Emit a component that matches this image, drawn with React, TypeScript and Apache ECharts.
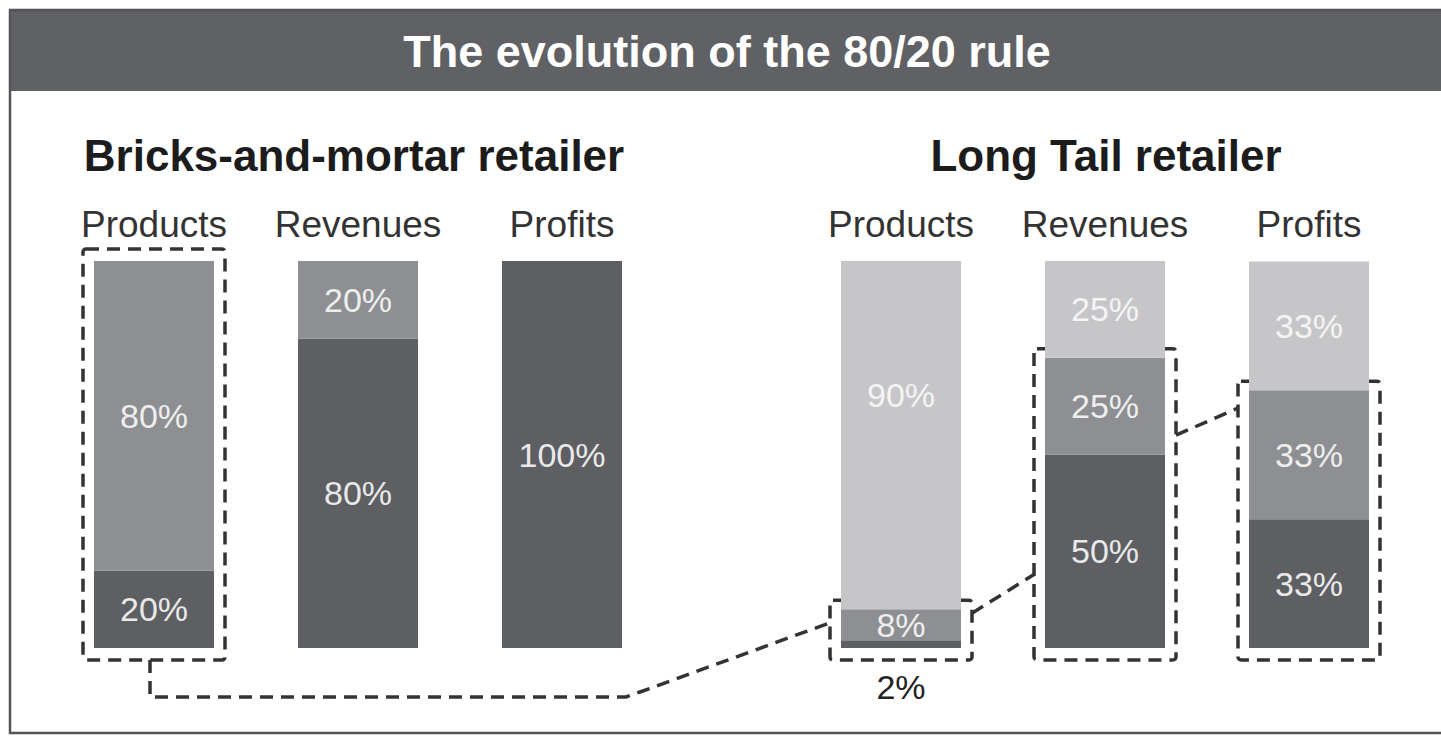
import React, { useEffect, useRef } from "react";
import * as echarts from "echarts";

const headerTitle = "The evolution of the 80/20 rule";
const leftTitle = "Bricks-and-mortar retailer";
const rightTitle = "Long Tail retailer";
const columns = ["Products", "Revenues", "Profits"];

// Bricks-and-mortar retailer, bottom to top
const bmHits = [20, 80, 100];
const bmRest = [80, 20, null];

// Long Tail retailer, bottom to top
const ltHits = [2, 50, 33.3];
const ltMiddle = [8, 25, 33.3];
const ltTail = [90, 25, 33.3];

const DARK = "#5e5f63";
const MID = "#8e8f93";
const LIGHT = "#c6c6c8";
const FONT = "Liberation Sans, Arial, sans-serif";

export default function App() {
  const ref = useRef<HTMLDivElement>(null);

  useEffect(() => {
    if (!ref.current) return;
    const chart = echarts.init(ref.current, undefined, { renderer: "svg" });

    const barLabel = (color: string) => ({
      show: true,
      position: "inside",
      color,
      fontFamily: FONT,
      fontSize: 34,
      formatter: (p: any) => Math.round(p.value) + "%",
    });

    const xAxisBase = (gridIndex: number) => ({
      type: "category",
      gridIndex,
      data: columns,
      position: "top",
      axisLine: { show: false },
      axisTick: { show: false },
      axisLabel: {
        interval: 0,
        color: "#333",
        fontFamily: FONT,
        fontSize: 37,
        lineHeight: 37,
        margin: 18,
      },
    });
    const yAxisBase = (gridIndex: number) => ({
      type: "value",
      gridIndex,
      min: 0,
      max: 100,
      show: false,
      splitLine: { show: false },
    });

    const common = { type: "bar", barWidth: 120, barGap: "-100%" };

    chart.setOption({
      animation: false,
      backgroundColor: "#ffffff",
      grid: [
        { left: 52, width: 612, top: 261, bottom: 88 },
        { left: 799, width: 612, top: 261, bottom: 88 },
      ],
      xAxis: [xAxisBase(0), xAxisBase(1)],
      yAxis: [yAxisBase(0), yAxisBase(1)],
      series: [
        {
          ...common,
          name: "bm-hits",
          xAxisIndex: 0,
          yAxisIndex: 0,
          stack: "bm",
          data: bmHits,
          itemStyle: { color: DARK },
          label: barLabel("#e9e9e9"),
        },
        {
          ...common,
          name: "bm-rest",
          xAxisIndex: 0,
          yAxisIndex: 0,
          stack: "bm",
          data: bmRest,
          itemStyle: { color: MID },
          label: barLabel("#eeeeee"),
        },
        {
          ...common,
          name: "lt-hits",
          xAxisIndex: 1,
          yAxisIndex: 1,
          stack: "lt",
          data: ltHits.map((v, i) =>
            i === 0
              ? { value: v, label: { position: "bottom", distance: 22, color: "#222" } }
              : v
          ),
          itemStyle: { color: DARK },
          label: barLabel("#e9e9e9"),
        },
        {
          ...common,
          name: "lt-middle",
          xAxisIndex: 1,
          yAxisIndex: 1,
          stack: "lt",
          data: ltMiddle,
          itemStyle: { color: MID },
          label: barLabel("#eeeeee"),
        },
        {
          ...common,
          name: "lt-tail",
          xAxisIndex: 1,
          yAxisIndex: 1,
          stack: "lt",
          data: ltTail.map((v, i) =>
            i === 0 ? { value: v, label: { offset: [0, -40] } } : v
          ),
          itemStyle: { color: LIGHT },
          label: barLabel("#f4f4f4"),
        },
      ],
    });

    const px = (g: number, cat: number, val: number) =>
      chart.convertToPixel({ gridIndex: g } as any, [columns[cat], val]) as number[];

    const HALF = 60;
    const PADX = 11;
    const dash = {
      fill: "none",
      stroke: "#333336",
      lineWidth: 3.5,
      lineDash: [13, 8],
    };

    const box = (g: number, cat: number, topVal: number, padTop: number) => {
      const [cx, yTop] = px(g, cat, topVal);
      const [, yBot] = px(g, cat, 0);
      return {
        x: cx - HALF - PADX,
        y: yTop - padTop,
        w: 2 * (HALF + PADX),
        h: yBot + 12 - (yTop - padTop),
        cx,
        yBot,
      };
    };

    const bL = box(0, 0, bmHits[0] + (bmRest[0] as number), 12);
    const bP = box(1, 0, ltHits[0] + ltMiddle[0], 9);
    const bR = box(1, 1, ltHits[1] + ltMiddle[1], 9);
    const bF = box(1, 2, ltHits[2] + ltMiddle[2], 9);

    const rectEl = (b: any) => ({
      type: "rect",
      shape: { x: b.x, y: b.y, width: b.w, height: b.h, r: 3 },
      style: { ...dash },
      silent: true,
    });

    const [profitsCx] = px(0, 2, 0);
    const lowY = bL.yBot + 49;
    const [, midSegP] = px(1, 0, ltHits[0] + ltMiddle[0] / 2);
    const [, yP2] = px(1, 0, 9);
    const [, yR2] = px(1, 1, 19);
    const [, yR3] = px(1, 1, 55);
    const [, yF3] = px(1, 2, 62);
    const [revCxL] = px(0, 1, 0);
    const [revCxR] = px(1, 1, 0);

    chart.setOption({
      title: [
        {
          text: headerTitle,
          left: 727,
          top: 51 - 23,
          textAlign: "center",
          padding: 0,
          textStyle: {
            color: "#ffffff",
            fontFamily: FONT,
            fontWeight: "bold",
            fontSize: 45,
            lineHeight: 46,
          },
        },
        {
          text: leftTitle,
          left: revCxL - 4,
          top: 155 - 22,
          textAlign: "center",
          padding: 0,
          textStyle: {
            color: "#1c1c1c",
            fontFamily: FONT,
            fontWeight: "bold",
            fontSize: 44,
            lineHeight: 44,
          },
        },
        {
          text: rightTitle,
          left: revCxR + 1,
          top: 155 - 22,
          textAlign: "center",
          padding: 0,
          textStyle: {
            color: "#1c1c1c",
            fontFamily: FONT,
            fontWeight: "bold",
            fontSize: 44,
            lineHeight: 44,
          },
        },
      ],
      graphic: [
        {
          type: "rect",
          z: -10,
          shape: { x: 10, y: 10, width: 1450, height: 81 },
          style: { fill: "#606165" },
          silent: true,
        },
        {
          type: "rect",
          z: -9,
          shape: { x: 10, y: 10, width: 1450, height: 723 },
          style: { fill: "none", stroke: "#555558", lineWidth: 2.5 },
          silent: true,
        },
        rectEl(bL),
        rectEl(bP),
        rectEl(bR),
        rectEl(bF),
        {
          type: "polyline",
          shape: {
            points: [
              [bL.cx - 4, bL.yBot + 12],
              [bL.cx - 4, lowY],
              [profitsCx + 64, lowY],
              [profitsCx + 78, lowY - 5],
              [bP.x, midSegP - 2],
            ],
          },
          style: { ...dash },
          silent: true,
        },
        {
          type: "line",
          shape: { x1: bP.x + bP.w, y1: yP2, x2: bR.x, y2: yR2 },
          style: { ...dash },
          silent: true,
        },
        {
          type: "line",
          shape: { x1: bR.x + bR.w, y1: yR3, x2: bF.x, y2: yF3 },
          style: { ...dash },
          silent: true,
        },
      ],
    });

    return () => chart.dispose();
  }, []);

  return (
    <div
      ref={ref}
      style={{ position: "absolute", left: 0, top: 0, width: 1441, height: 736 }}
    />
  );
}
